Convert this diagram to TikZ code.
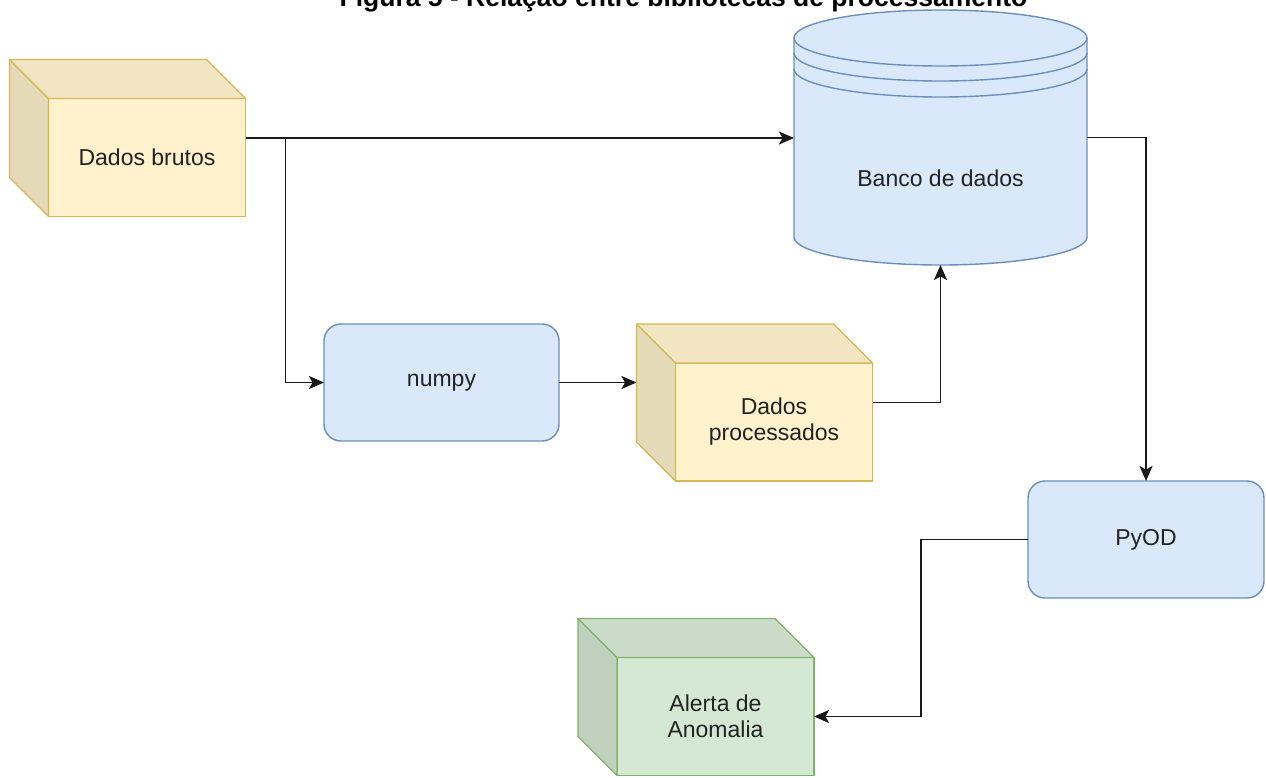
\documentclass[tikz,border=0pt]{standalone}
\usepackage{fontspec}
\setmainfont{Liberation Sans}
\usetikzlibrary{arrows.meta,calc}
\definecolor{bfill}{HTML}{DAE8FC}
\definecolor{bline}{HTML}{6C8EBF}
\definecolor{yfill}{HTML}{FFF2CC}
\definecolor{yline}{HTML}{D6B656}
\definecolor{gfill}{HTML}{D5E8D4}
\definecolor{gline}{HTML}{82B366}
\definecolor{txt}{HTML}{222222}
\newcommand{\cubefaces}[3]{%
  \path[fill=#2!90!black, draw=#3, line width=1.4pt, line join=round]
    (#1.north west) -- ++(-39,-39) -- ++(0,118) -- (#1.south west) -- cycle;
  \path[fill=#2!95!black, draw=#3, line width=1.4pt, line join=round]
    (#1.north west) -- ++(-39,-39) -- ++(197,0) -- (#1.north east) -- cycle;
}
\begin{document}
\begin{tikzpicture}[x=1pt,y=-1pt,
  every node/.style={text=txt, font=\fontsize{23}{26}\selectfont, align=center},
  cubefront/.style 2 args={draw=#2, fill=#1, line width=1.4pt, minimum width=197pt,
    minimum height=118pt, inner sep=0pt, outer sep=0pt},
  roundbox/.style={draw=bline, fill=bfill, line width=1.4pt, rounded corners=17pt,
    minimum width=235pt, minimum height=117pt, inner sep=0pt, outer sep=0pt},
  conn/.style={line width=1.9pt, draw=black!90, line join=miter,
    -{Stealth[length=15pt,width=13pt,inset=3.5pt]}},
  dbshape/.style={fill=bfill, draw=bline, line width=1.4pt}]
\useasboundingbox (0,0) rectangle (1266,777);
\fill[white] (0,0) rectangle (1266,777);

% title (cut at the top edge as in the reference)
\node[anchor=base, font=\fontsize{26.5}{30}\selectfont\bfseries, text=black] (title) at (683.5,6)
  {Figura 5 - Relação entre bibliotecas de processamento};

% cubes
\node[cubefront={yfill}{yline}] (brutos) at (147,157.5) {Dados brutos};
\cubefaces{brutos}{yfill}{yline}
\node[cubefront={yfill}{yline}] (proc) at (774,422) {Dados\\processados};
\cubefaces{proc}{yfill}{yline}
\node[cubefront={gfill}{gline}] (alerta) at (715.5,716.5) {Alerta de\\Anomalia};
\cubefaces{alerta}{gfill}{gline}

% rounded boxes
\node[roundbox] (numpy) at (441.5,382.5) {numpy};
\node[roundbox, minimum width=236pt] (pyod) at (1146,539.5) {PyOD};

% database cylinder
\node[minimum width=293pt, minimum height=255pt, inner sep=0pt, outer sep=0pt] (db) at (940.5,137.5) {};
\path[dbshape] ($(db.north west)+(0,28)$) -- ($(db.south west)+(0,-28)$)
  arc[start angle=180, end angle=360, x radius=146.5pt, y radius=28pt]
  -- ($(db.north east)+(0,28)$)
  arc[start angle=0, end angle=180, x radius=146.5pt, y radius=28pt] -- cycle;
\draw[draw=bline, line width=1.4pt] ($(db.north west)+(0,28)$)
  arc[start angle=180, end angle=360, x radius=146.5pt, y radius=28pt];
\draw[draw=bline, line width=1.4pt] ($(db.north west)+(0,43)$)
  arc[start angle=180, end angle=360, x radius=146.5pt, y radius=28pt];
\draw[draw=bline, line width=1.4pt] ($(db.north west)+(0,59)$)
  arc[start angle=180, end angle=360, x radius=146.5pt, y radius=28pt];
\node (dblabel) at ($(db.center)+(0,40.5)$) {Banco de dados};

% connectors
\coordinate (b1) at ([yshift=19.5pt]brutos.east);
\coordinate (pback) at ([xshift=-39pt]proc.west);
\coordinate (p1) at ([yshift=19.5pt]proc.east);
\draw[conn] (b1) -- (b1 -| db.west);
\draw[conn] (b1) -- ++(40,0) |- (numpy.west);
\draw[conn] (numpy.east) -- (numpy.east -| pback);
\draw[conn] (p1) -| (db.south);
\draw[conn] (db.east) -| (pyod.north);
\draw[conn] (pyod.west) -- ++(-107,0) |- (alerta.east);
\end{tikzpicture}
\end{document}
